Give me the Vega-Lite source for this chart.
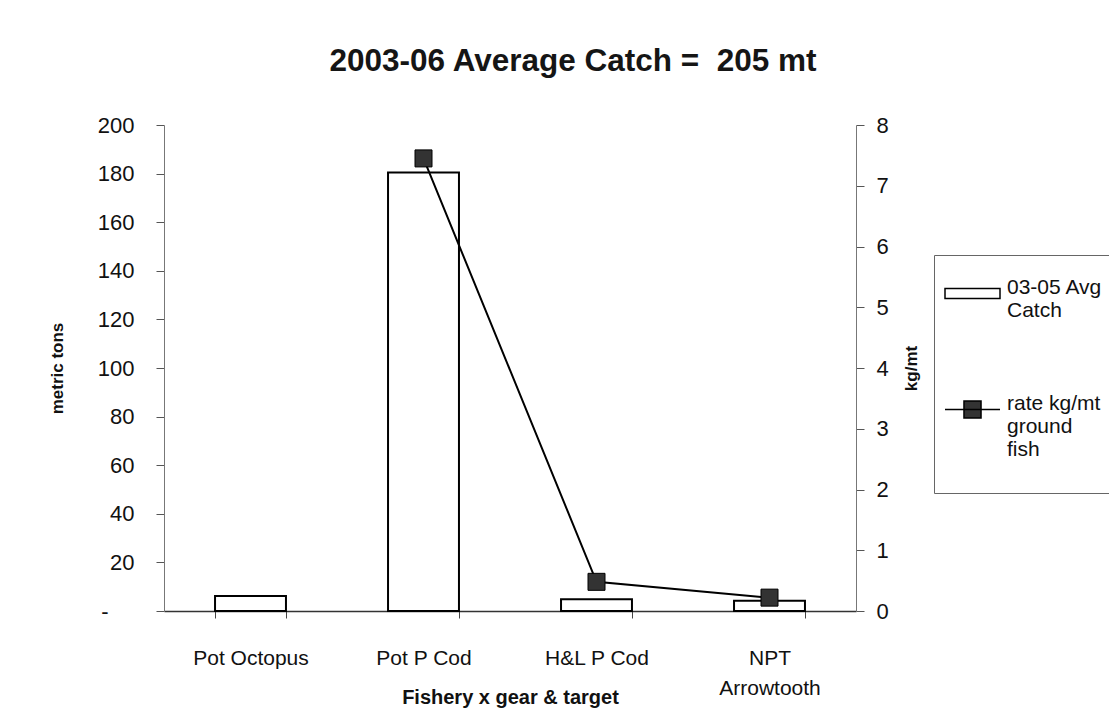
{
  "$schema": "https://vega.github.io/schema/vega-lite/v6.json",
  "width": 692,
  "height": 486,
  "autosize": "none",
  "padding": {"left": 164, "top": 125, "right": 253, "bottom": 105},
  "background": "white",
  "config": {
    "view": {"stroke": null},
    "font": "Liberation Sans",
    "axis": {"grid": false, "labelColor": "#111111", "titleColor": "#111111", "labelFont": "Liberation Sans", "titleFont": "Liberation Sans"}
  },
  "title": {
    "text": "2003-06 Average Catch = \u00a0205 mt",
    "fontSize": 31.5,
    "fontWeight": "bold",
    "font": "Liberation Sans",
    "color": "#151515",
    "anchor": "middle",
    "dx": 63,
    "offset": 37
  },
  "data": {
    "values": [
      {"fishery": "Pot Octopus", "catch": 6.2, "rate": null},
      {"fishery": "Pot P Cod", "catch": 180.5, "rate": 7.45},
      {"fishery": "H&L P Cod", "catch": 4.8, "rate": 0.48},
      {"fishery": "NPT Arrowtooth", "catch": 4.2, "rate": 0.22}
    ]
  },
  "layer": [
    {
      "mark": {"type": "bar", "stroke": "black", "strokeWidth": 2},
      "encoding": {
        "x": {
          "field": "fishery",
          "type": "nominal",
          "sort": null,
          "scale": {"paddingInner": 0.59, "paddingOuter": 0.295},
          "axis": {
            "title": "Fishery x gear & target",
            "titleFontSize": 20,
            "titleFontWeight": "bold",
            "titleBaseline": "alphabetic",
            "titleY": 92,
            "labelFontSize": 21,
            "labelAngle": 0,
            "labelExpr": "datum.label === 'NPT Arrowtooth' ? ['NPT', 'Arrowtooth'] : datum.label",
            "labelLineHeight": 30,
            "labelPadding": 29,
            "tickBand": "extent",
            "tickSize": 7,
            "tickColor": "#444444",
            "domainColor": "#333333",
            "domainWidth": 1.5
          }
        },
        "y": {
          "field": "catch",
          "type": "quantitative",
          "scale": {"domain": [0, 200]},
          "axis": {
            "orient": "left",
            "title": "metric tons",
            "titleFontSize": 17,
            "titleFontWeight": "bold",
            "titlePadding": 31,
            "values": [0, 20, 40, 60, 80, 100, 120, 140, 160, 180, 200],
            "labelExpr": "datum.value === 0 ? '-' : datum.label",
            "labelFontSize": 22,
            "labelPadding": {"condition": {"test": "datum.value === 0", "value": 48}, "value": 22},
            "tickSize": 8,
            "tickColor": "#555555",
            "domainColor": "#777777"
          }
        },
        "fill": {
          "datum": "03-05 Avg Catch",
          "type": "nominal",
          "scale": {"domain": ["03-05 Avg Catch", "rate kg/mt ground fish"], "range": ["white", "#333333"]},
          "legend": {
            "orient": "none",
            "legendX": 770,
            "legendY": 130,
            "title": null,
            "padding": 10,
            "strokeColor": "#666666",
            "fillColor": "white",
            "labelFontSize": 21,
            "labelFont": "Liberation Sans",
            "labelColor": "#111111",
            "labelLimit": 300,
            "labelOffset": 6,
            "labelBaseline": "alphabetic",
            "symbolType": {"expr": "datum.label === '03-05 Avg Catch' ? 'M-1,-0.18H1V0.18H-1Z' : 'M-1,0H1M-0.31,-0.31H0.31V0.31H-0.31Z'"},
            "symbolSize": 3025,
            "symbolStrokeColor": "black",
            "symbolStrokeWidth": 1.5,
            "rowPadding": 60,
            "labelExpr": "datum.label === '03-05 Avg Catch' ? ['03-05 Avg', 'Catch'] : ['rate kg/mt', 'ground', 'fish', '\u00a0']"
          }
        }
      }
    },
    {
      "mark": {"type": "line", "color": "black", "strokeWidth": 2},
      "encoding": {
        "x": {"field": "fishery", "type": "nominal", "sort": null},
        "y": {
          "field": "rate",
          "type": "quantitative",
          "scale": {"domain": [0, 8]},
          "axis": {
            "orient": "right",
            "title": "kg/mt",
            "titleFontSize": 17,
            "titleFontWeight": "bold",
            "titleAngle": 270,
            "titlePadding": 32,
            "values": [0, 1, 2, 3, 4, 5, 6, 7, 8],
            "labelFontSize": 22,
            "labelPadding": 12,
            "tickSize": 8,
            "tickColor": "#555555",
            "domainColor": "#777777"
          }
        }
      }
    },
    {
      "mark": {"type": "point", "shape": "square", "size": 289, "filled": true, "stroke": "black", "strokeWidth": 1, "opacity": 1},
      "encoding": {
        "x": {"field": "fishery", "type": "nominal", "sort": null},
        "y": {"field": "rate", "type": "quantitative", "scale": {"domain": [0, 8]}, "axis": null},
        "fill": {"datum": "rate kg/mt ground fish", "type": "nominal"}
      }
    }
  ],
  "resolve": {"scale": {"y": "independent"}}
}
